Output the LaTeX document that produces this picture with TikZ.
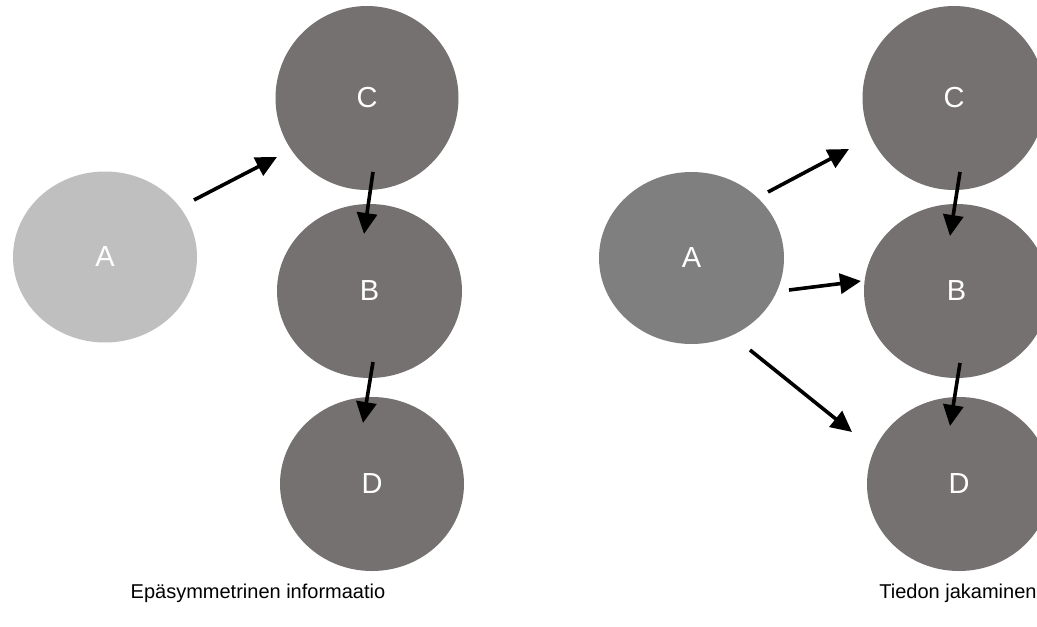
\documentclass[tikz,border=0pt]{standalone}
\usepackage{fontspec}
\setmainfont{Liberation Sans}
\usetikzlibrary{arrows.meta,shapes.geometric,calc}
\definecolor{lightA}{HTML}{BFBFBF}
\definecolor{midA}{HTML}{7F7F7F}
\definecolor{darkdisc}{HTML}{767171}
\tikzset{
  disc/.style={ellipse, draw=none, inner sep=0pt, text=white,
    font=\fontsize{29}{34}\selectfont},
  conn/.style={line width=3.6pt, draw=black,
    -{Triangle[length=21pt,width=20pt]}},
  caption/.style={font=\fontsize{20}{24}\selectfont, inner sep=0pt}
}
\begin{document}
\begin{tikzpicture}[x=1pt,y=-1pt]
\useasboundingbox (0,0) rectangle (1037,627);
\clip (0,0) rectangle (1037,627);
\fill[white] (0,0) rectangle (1037,627);

% left group: asymmetric information
\node[disc, fill=lightA, minimum width=184pt, minimum height=171pt] (lA) at (105,257) {A};
\node[disc, fill=darkdisc, minimum width=183pt, minimum height=184pt] (lC) at (367,98) {C};
\node[disc, fill=darkdisc, minimum width=185pt, minimum height=174pt] (lB) at (369.5,291) {B};
\node[disc, fill=darkdisc, minimum width=184pt, minimum height=174pt] (lD) at (372,484) {D};

\draw[conn] ($(lA)+(89,-57)$) -- ($(lC)+(-90,59)$);
\draw[conn] ($(lC)+(6,74)$) -- ($(lB)+(-5.5,-57)$);
\draw[conn] ($(lB)+(3.5,71)$) -- ($(lD)+(-9,-61)$);

\node[caption] (capL) at (258,593) {Epäsymmetrinen informaatio};

% right group: information sharing
\node[disc, fill=midA, minimum width=185pt, minimum height=172pt] (rA) at (691.5,258) {A};
\node[disc, fill=darkdisc, minimum width=183pt, minimum height=184pt] (rC) at (954,98) {C};
\node[disc, fill=darkdisc, minimum width=185pt, minimum height=174pt] (rB) at (956.5,291) {B};
\node[disc, fill=darkdisc, minimum width=184pt, minimum height=174pt] (rD) at (959,484) {D};

\draw[conn] ($(rA)+(76.5,-66)$) -- ($(rC)+(-105,51)$);
\draw[conn] ($(rA)+(97.5,32)$) -- ($(rB)+(-95.5,-10)$);
\draw[conn] ($(rA)+(58.5,92)$) -- ($(rD)+(-107,-52)$);
\draw[conn] ($(rC)+(6,74)$) -- ($(rB)+(-6.5,-55)$);
\draw[conn] ($(rB)+(3.5,72)$) -- ($(rD)+(-9,-58)$);

\node[caption] (capR) at (958,593) {Tiedon jakaminen};
\end{tikzpicture}
\end{document}
